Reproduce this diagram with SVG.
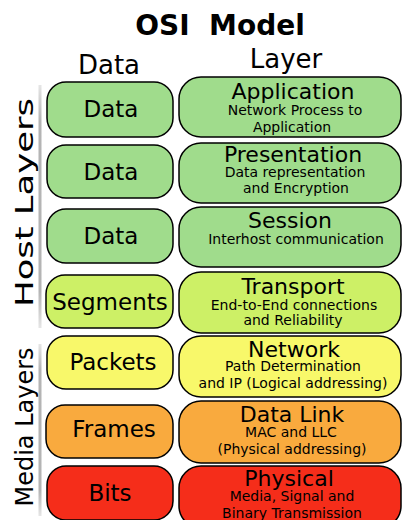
<svg xmlns="http://www.w3.org/2000/svg" width="403" height="520" viewBox="0 0 403 520">
<defs>
<linearGradient id="bar" x1="0" y1="0" x2="0" y2="1">
<stop offset="0" stop-color="#e6e6e6"/>
<stop offset="0.15" stop-color="#b4b4b4"/>
<stop offset="0.85" stop-color="#b4b4b4"/>
<stop offset="1" stop-color="#e6e6e6"/>
</linearGradient>
</defs>
<style>
text{font-family:"DejaVu Sans","Liberation Sans",sans-serif;fill:#000;text-anchor:middle}
.b{stroke:#000;stroke-width:1.5}
.g{fill:#a0dc8c}.l{fill:#cdf066}.y{fill:#f8f86a}.o{fill:#f9aa3e}.r{fill:#f52d1a}
.lab{font-size:23px}
.ttl{font-size:22px}
.sub{font-size:14px}
.hdr{font-size:26px}
</style>
<rect width="403" height="520" fill="#fff"/>
<text x="220" y="35" style="font-size:28px;font-weight:bold;white-space:pre">OSI  Model</text>
<text class="hdr" x="109" y="74">Data</text>
<text class="hdr" x="286" y="68">Layer</text>
<g id="side">
<rect x="38.5" y="85" width="3" height="243" fill="url(#bar)"/>
<rect x="38.5" y="344" width="3" height="172" fill="url(#bar)"/>
<text transform="translate(33,202.5) rotate(-90) scale(1.416,1)" style="font-size:25px">Host Layers</text>
<text transform="translate(33,427) rotate(-90)" style="font-size:24px">Media Layers</text>
</g>
<g id="n7"><rect class="b g" x="47" y="82" width="126" height="55" rx="19"/><text class="lab" x="111" y="117">Data</text>
<rect class="b g" x="179" y="77" width="222" height="60" rx="22"/><text class="ttl" x="293" y="99">Application</text><text class="sub" x="295" y="115">Network Process to</text><text class="sub" x="292" y="132">Application</text></g>
<g id="n6"><rect class="b g" x="47" y="145" width="126" height="53" rx="19"/><text class="lab" x="111" y="180">Data</text>
<rect class="b g" x="179" y="143" width="222" height="60" rx="22"/><text class="ttl" x="293" y="162">Presentation</text><text class="sub" x="295" y="177">Data representation</text><text class="sub" x="296" y="193">and Encryption</text></g>
<g id="n5"><rect class="b g" x="47" y="209" width="126" height="54" rx="19"/><text class="lab" x="111" y="244">Data</text>
<rect class="b g" x="179" y="207" width="222" height="60" rx="22"/><text class="ttl" x="290" y="228">Session</text><text class="sub" x="296" y="244">Interhost communication</text></g>
<g id="n4"><rect class="b l" x="46" y="275" width="127" height="53" rx="19"/><text class="lab" x="110" y="310">Segments</text>
<rect class="b l" x="179" y="272" width="222" height="61" rx="22"/><text class="ttl" x="293" y="294">Transport</text><text class="sub" x="294" y="310">End-to-End connections</text><text class="sub" x="293" y="325">and Reliability</text></g>
<g id="n3"><rect class="b y" x="47" y="336" width="126" height="53" rx="19"/><text class="lab" x="113" y="370">Packets</text>
<rect class="b y" x="179" y="336" width="222" height="61" rx="22"/><text class="ttl" x="294" y="357">Network</text><text class="sub" x="293" y="371">Path Determination</text><text class="sub" x="293" y="388">and IP (Logical addressing)</text></g>
<g id="n2"><rect class="b o" x="46" y="405" width="127" height="53" rx="19"/><text class="lab" x="114" y="437">Frames</text>
<rect class="b o" x="179" y="401" width="222" height="62" rx="22"/><text class="ttl" x="292" y="422">Data Link</text><text class="sub" x="291" y="437">MAC and LLC</text><text class="sub" x="292" y="454">(Physical addressing)</text></g>
<g id="n1"><rect class="b r" x="47" y="466" width="126" height="54" rx="19"/><text class="lab" x="110" y="501">Bits</text>
<rect class="b r" x="179" y="466" width="222" height="62" rx="22"/><text class="ttl" x="289" y="486">Physical</text><text class="sub" x="292" y="501">Media, Signal and</text><text class="sub" x="292" y="518">Binary Transmission</text></g>
</svg>
